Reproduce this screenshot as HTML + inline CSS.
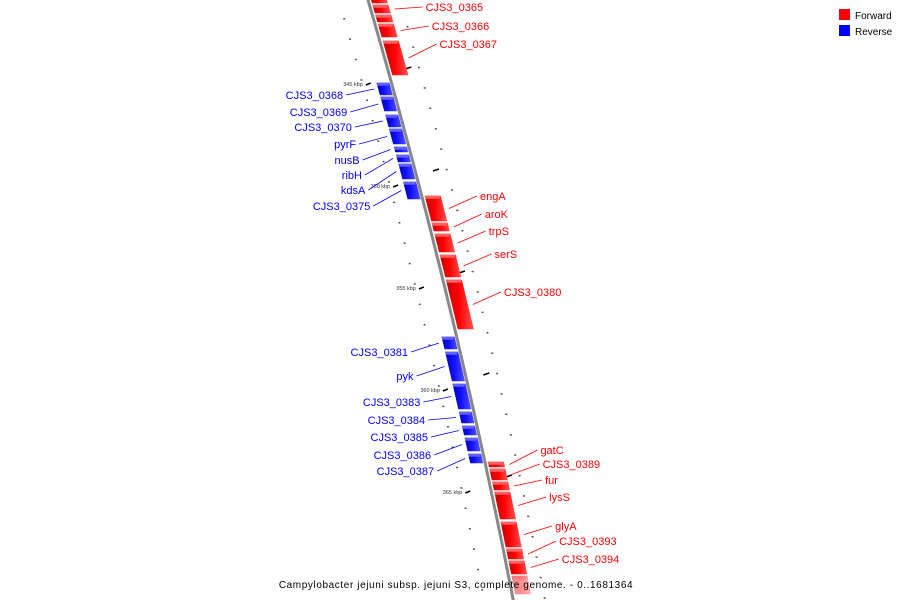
<!DOCTYPE html>
<html><head><meta charset="utf-8">
<style>
html,body{margin:0;padding:0;background:#fff;}
svg{display:block;font-family:"Liberation Sans",sans-serif;}
</style></head>
<body>
<svg id="chart" width="900" height="600" viewBox="0 0 900 600">
<defs>
<linearGradient id="gr" x1="0" x2="1" y1="0" y2="0"><stop offset="0" stop-color="#c00000"/><stop offset="0.45" stop-color="#ff0000"/><stop offset="1" stop-color="#ff5050"/></linearGradient>
<linearGradient id="gb" x1="0" x2="1" y1="0" y2="0"><stop offset="0" stop-color="#0000b0"/><stop offset="0.45" stop-color="#1010ff"/><stop offset="1" stop-color="#5050ff"/></linearGradient>
</defs>
<g id="ticks"></g>
<path id="backbone" fill="none" stroke="#888" stroke-width="3"/>
<g id="genes"></g>
<g id="labels"></g>
<g>
<rect x="839" y="9" width="11" height="11" fill="#ff0000"/>
<text x="855" y="19" font-size="10" fill="#000">Forward</text>
<rect x="839" y="25" width="11" height="11" fill="#0000ff"/>
<text x="855" y="35" font-size="10" fill="#000">Reverse</text>
</g>
<text x="456" y="588" font-size="10" text-anchor="middle" letter-spacing="0.6" fill="#000">Campylobacter jejuni subsp. jejuni S3, complete genome. - 0..1681364</text>
</svg>
<script>
// gene data (positions along backbone expressed in screen-y estimates)
const geneNames = ["","CJS3_0365","","CJS3_0366","CJS3_0367","CJS3_0368","CJS3_0369","CJS3_0370","pyrF","nusB","ribH","kdsA","CJS3_0375","engA","aroK","trpS","serS","CJS3_0380","CJS3_0381","pyk","CJS3_0383","CJS3_0384","CJS3_0385","CJS3_0386","CJS3_0387","gatC","CJS3_0389","fur","lysS","glyA","CJS3_0393","CJS3_0394",""];
const geneStart = [-10,4,14,23,40,82,96,114,128,146,154,163,181,195,222,233,254,279,336,351,383,411,425,437,453,461,468,481,491,521,548,560,575];
const geneEnd   = [4,14,23,38,76,96,112,128,145,153,163,180,200,222,232,253,278,330,350,382,410,424,436,452,464,468,481,491,520,548,560,575,595];
const geneStrand= [1,1,1,1,1,-1,-1,-1,-1,-1,-1,-1,-1,1,1,1,1,1,-1,-1,-1,-1,-1,-1,-1,1,1,1,1,1,1,1,1];
const labelY    = [0,7,0,26,44,95,112,127,144,160,175,190,206,196,214,231,254,292,352,376,402,420,437,455,471,450,464,480,497,526,541,559,0];
const tickLabels = ["345 kbp","350 kbp","355 kbp","360 kbp","365 kbp"];
const tickY = [84,186,288,390,492];

const NS="http://www.w3.org/2000/svg";
function bx(y){return 368+0.29*y-0.00008*y*y;}
function el(t,a,p){const e=document.createElementNS(NS,t);for(const k in a)e.setAttribute(k,a[k]);p.appendChild(e);return e;}
let d="";for(let y=-5;y<=605;y+=5)d+=(y<0?"M":"L")+bx(y).toFixed(1)+","+y+" ";
document.getElementById("backbone").setAttribute("d",d);

const tg=document.getElementById("ticks");
for(let y=18;y<600;y+=20.4){
  const a=el("rect",{x:bx(y)-30,y:y,width:2,height:1.5,fill:"#555"},tg);
  
  
  const b=el("rect",{x:bx(y+8)+31,y:y+8,width:2,height:1.5,fill:"#555"},tg);
  
  
}
tickY.forEach((y,i)=>{
  const m=el("line",{x1:bx(y)-26,y1:y+1,x2:bx(y)-21,y2:y-1,stroke:"#000","stroke-width":1.5},tg);
  
  
  const r=el("line",{x1:bx(y-16)+18,y1:y-15,x2:bx(y-16)+24,y2:y-17,stroke:"#000","stroke-width":1.5},tg);
  
  
  const t=el("text",{x:bx(y)-29,y:y+2,"font-size":5.5,"text-anchor":"end",fill:"#333"},tg);
  
  
  t.textContent=tickLabels[i];
});

const gg=document.getElementById("genes"),lg=document.getElementById("labels");
geneNames.forEach((n,i)=>{
  const s=geneStrand[i],y0=geneStart[i]+0.8,y1=geneEnd[i]-0.8;
  const a=s>0?3:-15,b=s>0?19:-2;
  const pts=[[bx(y0)+a,y0],[bx(y0)+b,y0],[bx(y1)+b,y1],[bx(y1)+a,y1]];
  const g=el("polygon",{points:pts.map(p=>p.join(",")).join(" "),fill:s>0?"url(#gr)":"url(#gb)",opacity:i==geneNames.length-1?0.45:1},gg);
  
  
  const top=el("polygon",{points:`${bx(y0)+a},${y0} ${bx(y0)+b},${y0} ${bx(y0+3)+b-2},${y0+3} ${bx(y0+3)+a},${y0+3}`,fill:s>0?"#ff6060":"#6060ff",opacity:i==geneNames.length-1?0.45:1},gg);
  
  
  if(!n)return;
  const col=s>0?"#ff0000":"#0000ff";
  const gy=(y0+y1)/2,ly=labelY[i];
  const gx=s>0?bx(gy)+24:bx(gy)-19;
  const lx=s>0?gx+28:gx-28;
  const ln=el("line",{x1:gx,y1:gy,x2:lx,y2:ly,stroke:col,"stroke-width":0.8},lg);
  
  
  const t=el("text",{x:s>0?lx+3:lx-3,y:ly+4,"font-size":11,"text-anchor":s>0?"start":"end",fill:col},lg);
  
  
  t.textContent=n;
});
</script>
</body></html>
